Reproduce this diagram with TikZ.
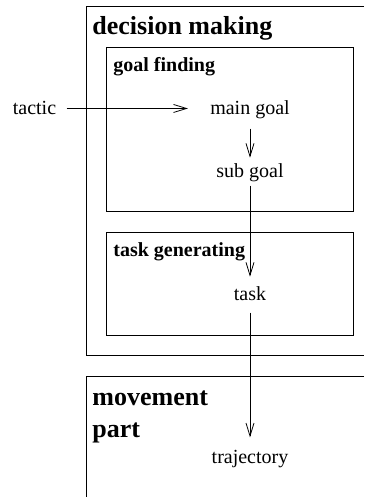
\documentclass[tikz,border=0pt]{standalone}
\usepackage{fontspec}
\setmainfont{Liberation Serif}
\usetikzlibrary{arrows.meta}
\begin{document}
\begin{tikzpicture}[x=1pt, y=-1pt, line width=0.8pt,
    label/.style={anchor=base, inner sep=0pt, font=\fontsize{20}{24}\selectfont},
    boxtitle/.style={anchor=base west, inner sep=0pt, font=\fontsize{20}{24}\selectfont\bfseries},
    parttitle/.style={anchor=base west, inner sep=0pt, font=\fontsize{26}{31}\selectfont\bfseries},
    flow/.style={-{Straight Barb[length=13pt, width=8pt]}, line width=0.8pt}]
    \useasboundingbox (0,0) rectangle (364,497);

    % --- decision making (cut off at the right) ---
    \draw (364,6) -- (86,6) -- (86,355) -- (364,355);
    \node[parttitle] (dmtitle) at (92,35) {decision making};

    % --- goal finding ---
    \draw (106,47) rectangle (353,211);
    \node[boxtitle] (gftitle) at (113,72) {goal finding};
    \node[label] (tactic) at (34.5,115) {tactic};
    \node[label] (main) at (250,115) {main goal};
    \node[label] (sub) at (250,177) {sub goal};

    % --- task generating ---
    \draw (106,232) rectangle (353,335);
    \node[boxtitle] (tgtitle) at (113,256) {task generating};
    \node[label] (task) at (250,300) {task};

    % --- movement part (cut off at the right and bottom) ---
    \draw (364,376) -- (86,376) -- (86,497);
    \node[parttitle] (mvtitle) at (92,405) {movement};
    \node[parttitle] (parttitle) at (92,437) {part};
    \node[label] (traj) at (250,463) {trajectory};

    % --- flow of goals ---
    \draw[flow, shorten <=10pt, shorten >=22pt] (tactic.east) -- (tactic.east -| main.west);
    \draw[flow, shorten <=9pt, shorten >=5pt] (main.south) -- (sub.north);
    \draw[flow, shorten <=4pt, shorten >=9pt] (sub.south) -- (task.north);
    \draw[flow, shorten <=12pt, shorten >=12pt] (task.south) -- (traj.north);
\end{tikzpicture}
\end{document}
